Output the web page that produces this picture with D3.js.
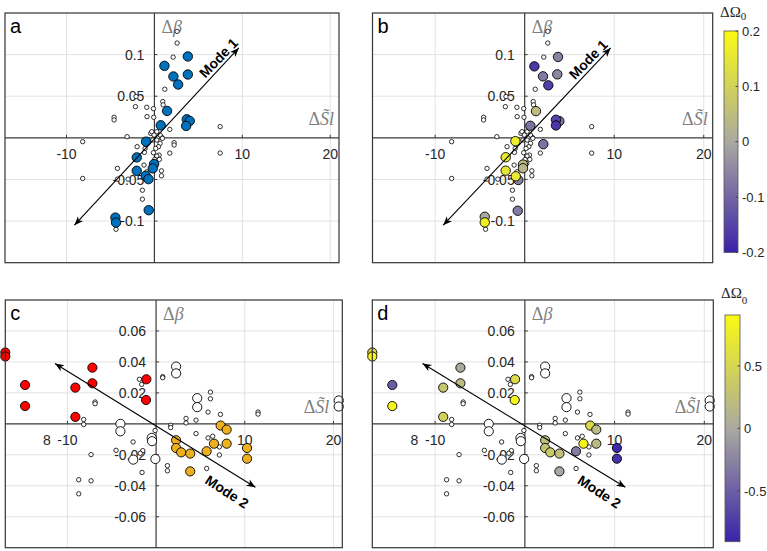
<!DOCTYPE html>
<html>
<head>
<meta charset="utf-8">
<script src="https://cdn.jsdelivr.net/npm/d3@7"></script>
<style>
  body { margin: 0; background: #fff; }
</style>
</head>
<body>
<script>
// ---- data ----
// small white markers, top panels (a, b)
const topSmall = [
  [2.58, 0.1279], [2.58, 0.1139], [2.13, 0.0970], [1.18, 0.0584], [-2.09, 0.0496], [-2.16, 0.0375],
  [-0.87, 0.0367], [-0.11, 0.0351], [0.95, 0.0436], [0.99, 0.0396], [-0.84, 0.0255], [-0.08, 0.0247],
  [-4.59, 0.0247], [-4.59, 0.0215], [7.48, 0.0135], [1.75, 0.0102], [-3.11, 0.0014], [-8.16, -0.0046],
  [-1.97, -0.0106], [-1.06, -0.0127], [-1.14, -0.0175], [2.24, -0.0058], [2.24, -0.0086], [1.75, -0.0183],
  [7.48, -0.0183], [-1.18, -0.0327], [-4.21, -0.0367], [-8.16, -0.0488], [-4.21, -0.0496], [-3.00, -0.0496],
  [0.80, -0.0396], [0.80, -0.0456], [-1.37, -0.0629], [-1.37, -0.0737], [-4.37, -0.1098], [-0.87, -0.0408],
  [0.53, -0.0207], [0.23, -0.0307], [-0.19, -0.0026], [0.42, 0.0006], [0.84, 0.0006], [-0.42, 0.0054],
  [-0.30, 0.0074], [0.27, 0.0074], [-0.04, 0.0034], [0.65, 0.0034], [0.91, -0.0006], [0.27, -0.0026],
  [0.65, -0.0066], [0.46, -0.0106], [0.15, -0.0127], [-0.11, -0.0179], [0.27, -0.0219], [0.04, -0.0259],
  [0.57, -0.0259]
];
// panel a: highlighted points
const aBig = [
  [3.80, 0.0978], [1.14, 0.0865], [3.80, 0.0761], [2.16, 0.0737], [2.70, 0.0641], [1.44, 0.0323],
  [3.68, 0.0223], [4.02, 0.0203], [3.61, 0.0143], [0.72, 0.0151], [-0.95, -0.0046], [-2.01, -0.0235],
  [-0.04, -0.0315], [-0.19, -0.0367], [-2.01, -0.0396], [-0.99, -0.0456], [-0.68, -0.0496], [-0.65, -0.0869],
  [-4.44, -0.0958], [-4.37, -0.1018]
];
// panel b: highlighted points [dSl, dBeta, dOmega0]
const bBig = [
  [3.72, 0.0972, -0.06], [1.08, 0.0859, -0.17], [2.04, 0.0739, -0.07], [3.64, 0.0763, -0.05],
  [2.64, 0.0631, -0.16], [1.26, 0.0321, 0.05], [3.87, 0.0201, -0.08], [3.49, 0.0217, -0.15],
  [3.49, 0.0149, -0.17], [0.63, 0.0145, -0.08], [2.08, -0.0076, -0.08], [-1.04, -0.0040, 0.17],
  [-2.12, -0.0233, 0.16], [-0.19, -0.0321, 0.04], [-0.19, -0.0365, 0.03], [-2.12, -0.0394, 0.15],
  [-0.71, -0.0506, -0.06], [-1.00, -0.0462, 0.16], [-0.78, -0.0876, -0.07], [-4.46, -0.0948, 0.0],
  [-4.46, -0.1016, 0.18]
];
// bottom panels (c, d)
const botSmall = [
  [-8.16, 0.0028], [-8.16, -0.0004], [-6.88, 0.0141], [-6.88, 0.0130], [-7.33, -0.0199], [-8.72, -0.0361],
  [-7.33, -0.0368], [-8.72, -0.0452], [-1.88, 0.0288], [-1.62, 0.0255], [-2.59, -0.0117], [-4.51, -0.0171],
  [-1.50, -0.0173], [-1.78, -0.0190], [-1.58, -0.0314], [-0.11, -0.0043], [0.75, 0.0305], [0.75, 0.0298],
  [1.65, -0.0009], [1.65, -0.0024], [1.28, -0.0270], [1.28, -0.0303], [3.38, 0.0035], [3.38, 0.0006],
  [4.51, 0.0024], [4.51, -0.0063], [6.13, 0.0205], [6.13, 0.0162], [5.86, 0.0076], [7.26, 0.0061],
  [5.86, -0.0091], [6.39, -0.0080], [6.50, -0.0115], [7.14, -0.0149], [7.14, -0.0201], [5.71, -0.0288],
  [11.5, 0.0076], [11.5, 0.0063]
];
const botWhiteBig = [
  [2.26, 0.0370], [2.26, 0.0326], [4.64, 0.0166], [4.64, 0.0108], [20.6, 0.0151], [20.6, 0.0112],
  [-0.49, -0.0091], [-0.45, -0.0112], [-0.08, -0.0227], [-2.57, -0.0231], [-4.02, 0.0000], [-4.02, -0.0048]
];
const cRed = [
  [-17.0, 0.0461], [-17.0, 0.0435], [-14.77, 0.0251], [-14.77, 0.0115], [-9.10, 0.0234], [-9.10, 0.0045],
  [-7.18, 0.0363], [-7.18, 0.0262], [-1.09, 0.0288], [-1.13, 0.0154]
];
const cOrange = [
  [7.28, -0.0011], [7.96, -0.0037], [2.26, -0.0106], [2.26, -0.0156], [2.83, -0.0184], [3.85, -0.0192],
  [5.70, -0.0177], [6.53, -0.0128], [7.96, -0.0128], [10.26, -0.0156], [10.26, -0.0225], [3.85, -0.0307]
];
// dOmega0 for the same points in panel d
const dOmegaRed = [0.5, 0.85, -0.5, 0.85, 0.3, 0.45, 0.0, 0.2, 0.55, 0.85];
const dOmegaOrange = [0.55, 0.2, 0.2, 0.3, 0.35, 0.25, -0.3, 0.85, 0.2, -0.85, -0.8, 0.0];

const xTicks = [-10, 10, 20];
const xTickLabels = ["-10", "10", "20"];
const topYTicks = [-0.1, -0.05, 0.05, 0.1];
const topYLabels = ["-0.1", "-0.05", "0.05", "0.1"];
const botYTicks = [-0.06, -0.04, -0.02, 0.02, 0.04, 0.06];
const botYLabels = ["-0.06", "-0.04", "-0.02", "0.02", "0.04", "0.06"];
const cbTopTicks = [-0.2, -0.1, 0, 0.1, 0.2];
const cbTopLabels = ["-0.2", "-0.1", "0", "0.1", "0.2"];
const cbBotTicks = [-0.5, 0, 0.5];
const cbBotLabels = ["-0.5", "0", "0.5"];

const mode1 = [[-9.1, -0.105], [9.6, 0.108]];
const mode2 = [[-11.4, 0.039], [11.2, -0.041]];

// ---- drawing ----
const SANS = '"Liberation Sans", Arial, sans-serif';
const SERIF = '"Liberation Serif", "Times New Roman", serif';

const svg = d3.select("body").append("svg").attr("width", 767).attr("height", 551)
  .style("font-family", SANS);

const defs = svg.append("defs");
defs.append("marker")
  .attr("id", "head")
  .attr("viewBox", "-10 -5 12 10")
  .attr("refX", 0).attr("refY", 0)
  .attr("markerWidth", 12).attr("markerHeight", 10)
  .attr("markerUnits", "userSpaceOnUse")
  .attr("orient", "auto-start-reverse")
  .append("path")
  .attr("d", "M0,0 L-9,-3.6 L-6.5,0 L-9,3.6 Z")
  .attr("fill", "#000");

function colorScale(lim) {
  return d3.scaleLinear().domain([-lim, 0, lim])
    .range(["#3b22a9", "#aaa9a0", "#fafa14"]).clamp(true);
}

function panel(p) {
  const x = d3.scaleLinear().domain([-17, 21]).range([p.x0, p.x1]);
  const y = d3.scaleLinear().domain(p.yDomain).range([p.y1, p.y0]);
  const g = svg.append("g");

  // grid
  g.selectAll(".gx").data(xTicks).enter().append("line")
    .attr("x1", d => x(d)).attr("x2", d => x(d))
    .attr("y1", p.y0).attr("y2", p.y1)
    .attr("stroke", "#e2e2e2").attr("stroke-width", 1);
  g.selectAll(".gy").data(p.yTicks).enter().append("line")
    .attr("x1", p.x0).attr("x2", p.x1)
    .attr("y1", d => y(d)).attr("y2", d => y(d))
    .attr("stroke", "#e2e2e2").attr("stroke-width", 1);

  // origin axes
  g.append("line").attr("x1", p.x0).attr("x2", p.x1).attr("y1", y(0)).attr("y2", y(0))
    .attr("stroke", "#3a3a3a").attr("stroke-width", 1.2);
  g.append("line").attr("x1", x(0)).attr("x2", x(0)).attr("y1", p.y0).attr("y2", p.y1)
    .attr("stroke", "#3a3a3a").attr("stroke-width", 1.2);

  // ticks
  g.selectAll(".tx").data(xTicks).enter().append("line")
    .attr("x1", d => x(d)).attr("x2", d => x(d))
    .attr("y1", y(0)).attr("y2", y(0) - 3).attr("stroke", "#3a3a3a");
  g.selectAll(".ty").data(p.yTicks).enter().append("line")
    .attr("x1", x(0)).attr("x2", x(0) + 3)
    .attr("y1", d => y(d)).attr("y2", d => y(d)).attr("stroke", "#3a3a3a");

  // tick labels
  g.selectAll(".lx").data(xTicks).enter().append("text")
    .attr("x", d => x(d)).attr("y", y(0) + 21)
    .attr("text-anchor", "middle").attr("font-size", 14).attr("fill", "#262626")
    .text((d, i) => xTickLabels[i]);
  g.selectAll(".ly").data(p.yTicks).enter().append("text")
    .attr("x", x(0) - 10).attr("y", d => y(d)).attr("dy", "0.36em")
    .attr("text-anchor", "end").attr("font-size", 14).attr("fill", "#262626")
    .text((d, i) => p.yLabels[i]);
  if (p.extraLabel) {
    g.append("text").attr("x", x(p.extraLabel[0])).attr("y", y(0) + 21)
      .attr("text-anchor", "middle").attr("font-size", 14).attr("fill", "#262626")
      .text(p.extraLabel[1]);
  }

  // axis labels
  const lb = g.append("text").attr("x", x(0) + 7).attr("y", p.y0 + 20)
    .style("font-family", SERIF).attr("font-size", 18).attr("fill", "#808080");
  lb.append("tspan").text("Δ");
  lb.append("tspan").attr("font-style", "italic").text("β");
  const ls = g.append("text").attr("x", p.x1 - p.slOff).attr("y", y(0) - p.slUp)
    .attr("text-anchor", "end")
    .style("font-family", SERIF).attr("font-size", 18).attr("fill", "#808080");
  ls.append("tspan").text("Δ");
  ls.append("tspan").attr("font-style", "italic").text("S\u0303l");

  return { x, y, g, p };
}

function dots(P, data, r, fill, sw) {
  P.g.append("g").selectAll("circle").data(data).enter().append("circle")
    .attr("cx", d => P.x(d[0])).attr("cy", d => P.y(d[1])).attr("r", r)
    .attr("fill", fill).attr("stroke", "#000").attr("stroke-width", sw);
}

function arrow(P, m, label, lp, rot) {
  P.g.append("line")
    .attr("x1", P.x(m[0][0])).attr("y1", P.y(m[0][1]))
    .attr("x2", P.x(m[1][0])).attr("y2", P.y(m[1][1]))
    .attr("stroke", "#000").attr("stroke-width", 1.1)
    .attr("marker-start", "url(#head)").attr("marker-end", "url(#head)");
  P.g.append("text")
    .attr("transform", `translate(${P.x(lp[0])},${P.y(lp[1])}) rotate(${rot})`)
    .attr("text-anchor", "middle").attr("dy", "0.35em")
    .attr("font-size", 14).attr("font-weight", "bold").attr("fill", "#000")
    .text(label);
}

function frame(P, letter) {
  const p = P.p;
  P.g.append("rect").attr("x", p.x0).attr("y", p.y0)
    .attr("width", p.x1 - p.x0).attr("height", p.y1 - p.y0)
    .attr("fill", "none").attr("stroke", "#333").attr("stroke-width", 1.2);
  P.g.append("text").attr("x", p.x0 + 5).attr("y", p.y0 + 20)
    .attr("font-size", 20).attr("fill", "#000").text(letter);
}

function colorbar(c, lim, ticks, labels) {
  const col = colorScale(lim);
  const id = "cb" + Math.round(c.y0);
  const grad = defs.append("linearGradient").attr("id", id)
    .attr("x1", 0).attr("y1", 1).attr("x2", 0).attr("y2", 0);
  d3.range(0, 1.0001, 0.05).forEach(t => {
    grad.append("stop").attr("offset", t).attr("stop-color", col(-lim + 2 * lim * t));
  });
  const s = d3.scaleLinear().domain([-lim, lim]).range([c.y1, c.y0]);
  svg.append("rect").attr("x", c.x0).attr("y", c.y0).attr("width", c.x1 - c.x0).attr("height", c.y1 - c.y0)
    .attr("fill", `url(#${id})`).attr("stroke", "#555").attr("stroke-width", 0.8);
  svg.append("g").selectAll("line").data(ticks).enter().append("line")
    .attr("x1", c.x1 - 2.5).attr("x2", c.x1).attr("y1", d => s(d)).attr("y2", d => s(d))
    .attr("stroke", "#444");
  svg.append("g").selectAll("text").data(ticks).enter().append("text")
    .attr("x", c.x1 + 4).attr("y", d => s(d)).attr("dy", "0.36em")
    .attr("font-size", 13).attr("fill", "#262626")
    .text((d, i) => labels[i]);
  const t = svg.append("text").attr("x", c.x0 - 4).attr("y", c.y0 - c.lblUp)
    .style("font-family", SERIF).attr("font-size", 15).attr("fill", "#262626");
  t.append("tspan").text("ΔΩ");
  t.append("tspan").attr("font-size", 11).attr("dy", c.subDy).text("0");
}

const topCfg = { yDomain: [-0.15, 0.15], yTicks: topYTicks, yLabels: topYLabels, slOff: 5, slUp: 13 };
const botCfg = { yDomain: [-0.08, 0.08], yTicks: botYTicks, yLabels: botYLabels, slOff: 13, slUp: 11,
  extraLabel: [-12.3, "8"] };

// a
const A = panel(Object.assign({ x0: 5, x1: 339, y0: 13, y1: 262.7 }, topCfg));
dots(A, topSmall, 2.2, "#fff", 0.8);
dots(A, aBig, 4.7, "#0072bd", 0.9);
arrow(A, mode1, "Mode 1", [7.3, 0.096], -46);
frame(A, "a");

// b
const B = panel(Object.assign({ x0: 372.5, x1: 712.7, y0: 13, y1: 262.7 }, topCfg));
const colTop = colorScale(0.2);
dots(B, topSmall, 2.2, "#fff", 0.8);
B.g.append("g").selectAll("circle").data(bBig).enter().append("circle")
  .attr("cx", d => B.x(d[0])).attr("cy", d => B.y(d[1])).attr("r", 4.7)
  .attr("fill", d => colTop(d[2])).attr("stroke", "#000").attr("stroke-width", 0.9);
arrow(B, mode1, "Mode 1", [7.1, 0.094], -46);
frame(B, "b");
colorbar({ x0: 724, x1: 738, y0: 31, y1: 252.5, lblUp: 14, subDy: 3 }, 0.2, cbTopTicks, cbTopLabels);

// c
const C = panel(Object.assign({ x0: 5.3, x1: 342.3, y0: 300, y1: 547.7 }, botCfg));
dots(C, botSmall, 2.2, "#fff", 0.8);
dots(C, botWhiteBig, 4.6, "#fff", 0.9);
dots(C, cRed, 4.6, "#ff0000", 0.9);
dots(C, cOrange, 4.6, "#edb120", 0.9);
arrow(C, mode2, "Mode 2", [8.0, -0.0438], 33);
frame(C, "c");

// d
const D = panel(Object.assign({ x0: 372.3, x1: 713.3, y0: 300, y1: 547.7 }, botCfg));
const colBot = colorScale(0.9);
dots(D, botSmall, 2.2, "#fff", 0.8);
dots(D, botWhiteBig, 4.6, "#fff", 0.9);
const dPts = cRed.map((d, i) => [d[0], d[1], dOmegaRed[i]])
  .concat(cOrange.map((d, i) => [d[0], d[1], dOmegaOrange[i]]));
D.g.append("g").selectAll("circle").data(dPts).enter().append("circle")
  .attr("cx", d => D.x(d[0])).attr("cy", d => D.y(d[1])).attr("r", 4.6)
  .attr("fill", d => colBot(d[2])).attr("stroke", "#000").attr("stroke-width", 0.9);
arrow(D, mode2, "Mode 2", [8.3, -0.0438], 33);
frame(D, "d");
colorbar({ x0: 725, x1: 740, y0: 315, y1: 541.7, lblUp: 17, subDy: 6 }, 0.907, cbBotTicks, cbBotLabels);
</script>
</body>
</html>
